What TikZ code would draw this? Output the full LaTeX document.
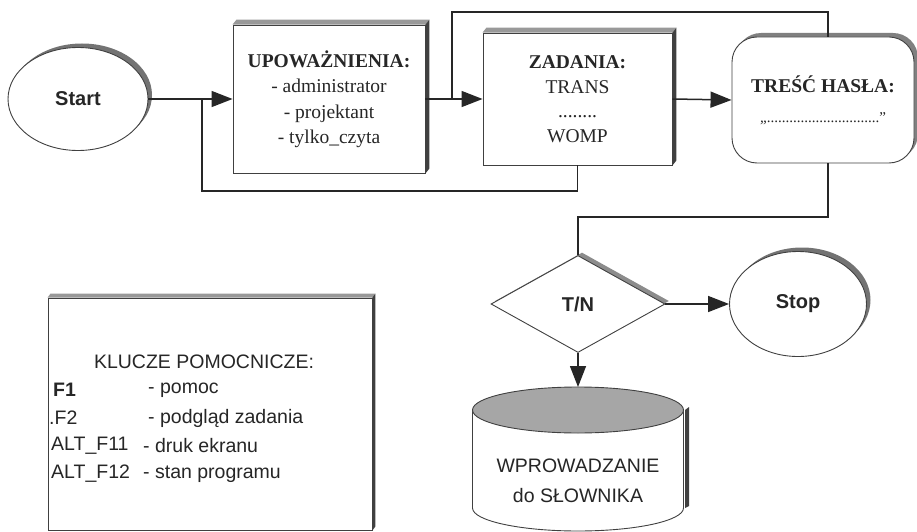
\documentclass[tikz,border=0pt]{standalone}
\usepackage{fontspec}
\setmainfont{Liberation Serif}
\setsansfont{Liberation Sans}
\usetikzlibrary{shapes.geometric,arrows.meta,calc,shadows}
\begin{document}
\begin{tikzpicture}[x=1pt,y=-1pt,
  conn/.style={line width=1.5pt, draw=black!85},
  arr/.style={conn, -{Triangle[length=21pt,width=16pt]}},
  frame/.style={draw=black!75, line width=0.9pt, fill=white, inner sep=0pt},
  oval/.style={frame, ellipse, drop shadow={shadow xshift=4pt, shadow yshift=4pt, fill=black!55, opacity=1}},
  sbig/.style={font=\fontsize{20}{24}\selectfont\sffamily\bfseries, text=black!85},
  ssmall/.style={font=\fontsize{19.5}{24}\selectfont\sffamily, text=black!85},
  rtext/.style={font=\fontsize{19.5}{25.5}\selectfont, text=black!85, align=center},
  topface/.style={fill=black!40},
  sideface/.style={fill=black!75}
]
\useasboundingbox (0,0) rectangle (917,532);

% ---------- nodes ----------
\node[oval, minimum width=140pt, minimum height=103pt, sbig] (start) at (78,99) {Start};

\node[frame, minimum width=192pt, minimum height=148pt, rtext] (upow) at (329,99)
  {\textbf{UPOWAŻNIENIA:}\\- administrator\\- projektant\\- tylko\_czyta};
\fill[topface] (upow.north west) -- (upow.north east) -- ++(4,-5) -- ($(upow.north west)+(4,-5)$) -- cycle;
\fill[sideface] (upow.north east) -- ++(4,-5) -- ($(upow.south east)+(4,-5)$) -- (upow.south east) -- cycle;

\node[frame, minimum width=189pt, minimum height=132pt, rtext, font=\fontsize{19.5}{24.5}\selectfont] (zad) at (577.5,99)
  {\textbf{ZADANIA:}\\TRANS\\........\\WOMP};
\fill[topface] (zad.north west) -- (zad.north east) -- ++(4,-5) -- ($(zad.north west)+(4,-5)$) -- cycle;
\fill[sideface] (zad.north east) -- ++(4,-5) -- ($(zad.south east)+(4,-5)$) -- (zad.south east) -- cycle;

\node[frame, rounded corners=25pt, minimum width=182pt, minimum height=126pt, rtext,
  font=\fontsize{19.5}{30}\selectfont,
  drop shadow={shadow xshift=4pt, shadow yshift=4pt, fill=black!50, opacity=1}] (tresc) at (823,100)
  {\textbf{TREŚĆ HASŁA:}\\{\fontsize{15}{15}\selectfont „..............................”}};

\node[frame, diamond, minimum width=174pt, minimum height=97pt, sbig,
  drop shadow={shadow xshift=4pt, shadow yshift=3pt, fill=black!45, opacity=1}] (dia) at (578,304) {T/N};

\node[oval, minimum width=137pt, minimum height=105pt, sbig] (stop) at (798,304) {Stop};

% cylinder
\fill[black!75] (685,410) -- (689,407) -- (689,506) -- (685,508) -- cycle;
\draw[frame] (472.5,410) -- (472.5,508) arc[start angle=180, end angle=360, x radius=105.5pt, y radius=23pt] -- (683.5,410);
\draw[frame, fill=black!35] (578,410) ellipse[x radius=105.5pt, y radius=23pt];
\coordinate (cyltop) at (578,387);
\node[ssmall, align=center, font=\fontsize{19.5}{30}\selectfont\sffamily] (cyl) at (578,481) {WPROWADZANIE\\do SŁOWNIKA};

% help box
\node[frame, minimum width=324pt, minimum height=232pt] (klu) at (210,414) {};
\fill[topface] (klu.north west) -- (klu.north east) -- ++(3,-4) -- ($(klu.north west)+(3,-4)$) -- cycle;
\fill[sideface] (klu.north east) -- ++(3,-4) -- ($(klu.south east)+(3,-4)$) -- (klu.south east) -- cycle;
\node[ssmall] (kt) at (204,362) {KLUCZE POMOCNICZE:};
\node[ssmall, anchor=west, inner sep=0pt] (k1) at (53,390) {\textbf{F1}};
\node[ssmall, anchor=west, inner sep=0pt] (k2) at (49,418) {.F2};
\node[ssmall, anchor=west, inner sep=0pt] (k3) at (51,446) {ALT\_F11};
\node[ssmall, anchor=west, inner sep=0pt] (k4) at (51,474) {ALT\_F12};
\node[ssmall, anchor=west, inner sep=0pt] (d1) at (148,390) {- pomoc};
\node[ssmall, anchor=west, inner sep=0pt] (d2) at (148,418) {- podgląd zadania};
\node[ssmall, anchor=west, inner sep=0pt] (d3) at (143,446) {- druk ekranu};
\node[ssmall, anchor=west, inner sep=0pt] (d4) at (143,474) {- stan programu};

% ---------- connectors ----------
\coordinate (fbL) at (202,191);
\coordinate (br) at (452,99);
\coordinate (topR) at (828,12);
\coordinate (mid) at (578,217);

\draw[arr] (start.east) -- (upow.west);
\draw[conn] (zad.south) |- (fbL) -- (fbL |- upow.west);
\draw[arr] (upow.east) -- (zad.west);
\draw[conn] (br) |- (topR) -- (topR |- tresc.north);
\draw[arr] (zad.east) -- (tresc.west);
\draw[conn] (topR |- tresc.south) |- (mid) -- (dia.north);
\draw[arr] (dia.east) -- (stop.west);
\draw[arr] (dia.south) -- (cyltop);
\end{tikzpicture}
\end{document}
